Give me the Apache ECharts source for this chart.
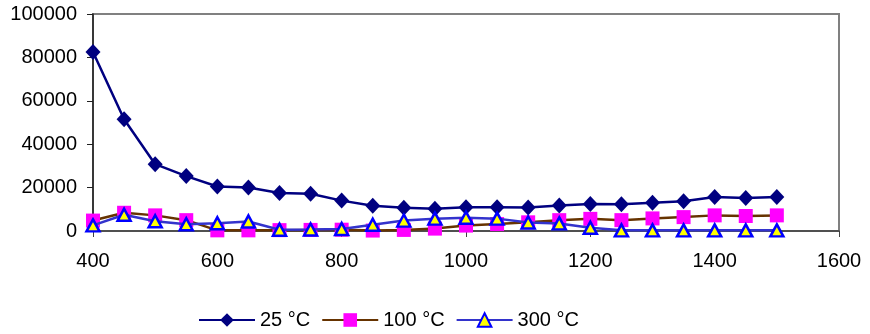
<!DOCTYPE html>
<html>
<head>
<meta charset="utf-8">
<script src="https://cdn.jsdelivr.net/npm/echarts@6/dist/echarts.min.js"></script>
<style>
  html, body { margin: 0; padding: 0; background: #fff; }
  #chart { width: 870px; height: 334px; }
</style>
</head>
<body>
<div id="chart"></div>
<script>
// Temperatures along the x axis
const xValues = [400, 450, 500, 550, 600, 650, 700, 750, 800, 850, 900, 950,
                 1000, 1050, 1100, 1150, 1200, 1250, 1300, 1350, 1400, 1450, 1500];

// Series values
const s25 = [82500, 51500, 30800, 25300, 20500, 20000, 17500, 17200, 14000, 11600, 10700, 10200,
             11000, 11000, 10800, 11700, 12400, 12300, 13000, 13700, 15700, 15200, 15700];
const s100 = [4800, 8400, 7200, 5000, 300, 300, 400, 500, 600, 200, 500, 1100,
              2500, 3200, 4000, 5000, 5600, 5000, 5800, 6400, 7200, 6900, 7200];
const s300 = [2600, 7500, 4500, 3100, 3600, 4400, 600, 700, 900, 2900, 4800, 5700,
              6100, 5700, 3900, 3500, 1500, 300, 300, 300, 300, 300, 300];

const seriesNames = ['25 °C', '100 °C', '300 °C'];

const pairs = (vals) => xValues.map((x, i) => [x, vals[i]]);

const font = 'Liberation Sans, Arial, sans-serif';
const plain = (v) => String(v);

const chart = echarts.init(document.getElementById('chart'), null, { renderer: 'canvas' });

chart.setOption({
  animation: false,
  backgroundColor: '#ffffff',
  grid: {
    left: 93, right: 31, top: 14, bottom: 103,
    show: true,
    borderColor: '#808080',
    borderWidth: 2,
    backgroundColor: 'transparent'
  },
  legend: {
    left: 193,
    top: 305,
    itemWidth: 56,
    itemHeight: 17,
    itemGap: 11,
    textStyle: { fontFamily: font, fontSize: 20, color: '#000' },
    data: seriesNames
  },
  xAxis: {
    type: 'value',
    min: 400, max: 1600, interval: 200,
    axisLine: { show: true, lineStyle: { color: '#404040', width: 1.5 } },
    axisTick: { show: true, inside: false, length: 6, lineStyle: { color: '#404040' } },
    axisLabel: { fontFamily: font, fontSize: 20, color: '#000', margin: 20, formatter: plain },
    splitLine: { show: false }
  },
  yAxis: {
    type: 'value',
    min: 0, max: 100000, interval: 20000,
    axisLine: { show: true, lineStyle: { color: '#202020', width: 1.5 } },
    axisTick: { show: true, inside: false, length: 6, lineStyle: { color: '#202020' } },
    axisLabel: { fontFamily: font, fontSize: 20, color: '#000', margin: 16, formatter: plain },
    splitLine: { show: false }
  },
  series: [
    {
      name: seriesNames[0],
      type: 'line',
      data: pairs(s25),
      symbol: 'diamond',
      symbolSize: [15, 16],
      lineStyle: { color: '#000080', width: 2.5 },
      itemStyle: { color: '#000080', borderWidth: 0 },
      z: 2
    },
    {
      name: seriesNames[1],
      type: 'line',
      data: pairs(s100),
      symbol: 'rect',
      symbolSize: 14,
      lineStyle: { color: '#663300', width: 2.5 },
      itemStyle: { color: '#ff00ff', borderWidth: 0 },
      z: 3
    },
    {
      name: seriesNames[2],
      type: 'line',
      data: pairs(s300),
      symbol: 'triangle',
      symbolSize: [13, 12],
      lineStyle: { color: '#3333cc', width: 2.5 },
      itemStyle: { color: '#ffff00', borderColor: '#0000ff', borderWidth: 2.5 },
      z: 4
    }
  ]
});
</script>
</body>
</html>
